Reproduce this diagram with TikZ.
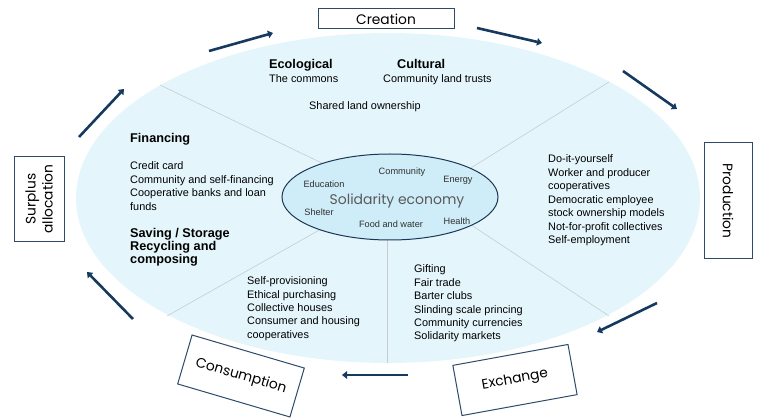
\documentclass[tikz,border=0pt]{standalone}
\usepackage{fontspec}
\setmainfont{Liberation Sans}
\newfontfamily\gothic{Poppins}
\usetikzlibrary{shapes.geometric,arrows.meta}

\definecolor{outerfill}{HTML}{E4F6FC}
\definecolor{corefill}{HTML}{CFEDF8}
\definecolor{coreline}{HTML}{1C3756}
\definecolor{boxline}{HTML}{2D4A68}
\definecolor{navy}{HTML}{163A5F}
\definecolor{divgray}{HTML}{C5CDD3}
\definecolor{tagtext}{HTML}{303030}
\definecolor{econtext}{HTML}{5A5A5A}

\begin{document}
\begin{tikzpicture}[x=1pt,y=-1pt,
  item/.style={anchor=base west,inner sep=0pt,font=\fontsize{10.9}{13}\selectfont},
  head/.style={item,font=\fontsize{12.7}{13}\selectfont\bfseries},
  tag/.style={inner sep=0pt,text=tagtext,font=\fontsize{9.2}{11}\selectfont},
  stage/.style={draw=boxline,line width=1pt,fill=white,inner sep=0pt,align=center,
    font=\gothic\fontsize{13.8}{17}\selectfont},
  flow/.style={navy,line width=2.6pt,-{Triangle[length=5pt,width=7.5pt]}},
  divider/.style={draw=divgray,line width=0.6pt}]
\useasboundingbox (0,0) rectangle (758,419);

% outer disc and the spokes between sectors
\fill[outerfill] (388,198) ellipse [x radius=312,y radius=165];
\foreach \n/\x/\y/\u/\v in {ul/160/85/330/167,ur/609/82/450/181,ll/167/316/330/224,
  bt/387/363/387/220,lr/609/316/450/211}{
  \coordinate (\n-out) at (\x,\y);
  \coordinate (\n-in) at (\u,\v);
  \draw[divider] (\n-out) -- (\n-in);
}

% core
\node[ellipse,draw=coreline,line width=1pt,fill=corefill,minimum width=216pt,
  minimum height=86pt,inner sep=0pt] (core) at (390,197) {};
\node[text=econtext,inner sep=0pt,font=\gothic\fontsize{14}{16}\selectfont] (econ) at (397,201) {Solidarity economy};
\foreach \t/\x/\y [count=\i] in {Community/402/172,Education/324/184,Energy/458/180,
  Shelter/319/212,Food and water/391/224,Health/457/221}
  \node[tag] (tag-\i) at (\x,\y) {\t};

% creation sector
\node[head] (eco) at (269,68.5) {Ecological};
\node[item] (eco-1) at (269,83) {The commons};
\node[head] (cult) at (397,68.5) {Cultural};
\node[item] (cult-1) at (383,83) {Community land trusts};
\node[item] (shared) at (309,110) {Shared land ownership};

% surplus sector
\node[head] (fin) at (130,142.5) {Financing};
\foreach \t [count=\i from 0] in {Credit card,Community and self-financing,
  Cooperative banks and loan,funds}
  \node[item] (fin-\i) at (130,170+13.5*\i) {\t};
\foreach \t [count=\i from 0] in {Saving / Storage,Recycling and,composing}
  \node[head] (save-\i) at (130,237.5+13*\i) {\t};

% production sector
\foreach \t [count=\i from 0] in {Do-it-yourself,Worker and producer,cooperatives,
  Democratic employee,stock ownership models,Not-for-profit collectives,Self-employment}
  \node[item] (prod-\i) at (548,163+13.5*\i) {\t};

% consumption sector
\foreach \t [count=\i from 0] in {Self-provisioning,Ethical purchasing,Collective houses,
  Consumer and housing,cooperatives}
  \node[item] (cons-\i) at (247,285+13.3*\i) {\t};

% exchange sector
\foreach \t [count=\i from 0] in {Gifting,Fair trade,Barter clubs,Slinding scale princing,
  Community currencies,Solidarity markets}
  \node[item] (exch-\i) at (414,273+13.4*\i) {\t};

% stages
\node[stage,minimum width=136pt,minimum height=20pt] (creation) at (386,19) {Creation};
\node[stage,rotate=90,minimum width=85pt,minimum height=50pt] (surplus) at (39,199) {Surplus\\allocation};
\node[stage,rotate=-90,minimum width=116pt,minimum height=48pt] (production) at (728,201) {Production};
\node[stage,rotate=-16.4,minimum width=117pt,minimum height=51pt] (consumption) at (241,376) {Consumption};
\node[stage,rotate=10.3,minimum width=117pt,minimum height=51pt] (exchange) at (515,380) {Exchange};

% cycle arrows
\foreach \n/\x/\y/\u/\v in {a1/79/137/124/89,a2/209/51/273/33,a3/477/28/542/43,
  a4/623/71/677/109,a5/657/303/597/332,a6/408/375/342/375,a7/133/319/87/272}{
  \coordinate (\n-s) at (\x,\y);
  \coordinate (\n-e) at (\u,\v);
  \draw[flow] (\n-s) -- (\n-e);
}
\end{tikzpicture}
\end{document}
